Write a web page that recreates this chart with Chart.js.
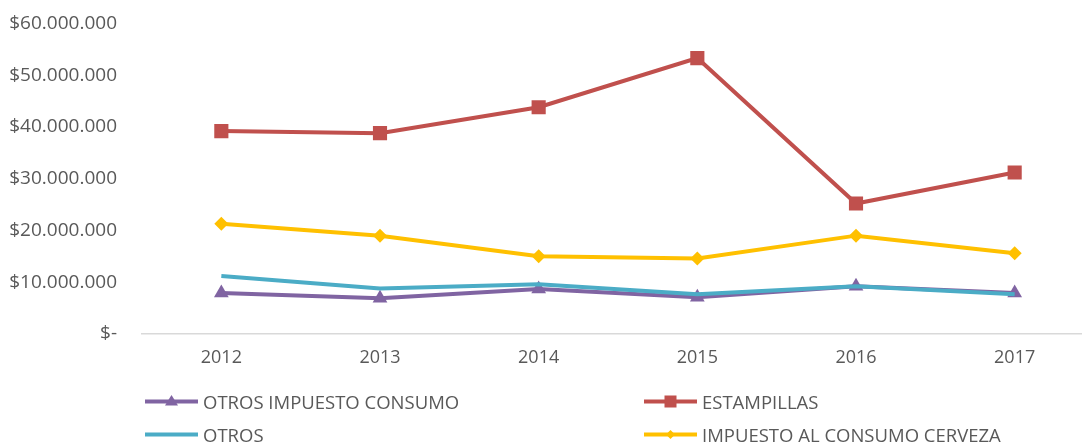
<!DOCTYPE html>
<html>
<head>
<meta charset="utf-8">
<script src="https://cdn.jsdelivr.net/npm/chart.js@4"></script>
<style>
  html, body { margin: 0; padding: 0; background: #fff; overflow: hidden; }
  #wrap { position: relative; width: 1082px; height: 446px; overflow: hidden; }
  #myChart { position: absolute; left: 0; top: -13px; }
  #legend { position: absolute; left: 0; top: 0; width: 1082px; height: 446px; pointer-events: none;
    font-family: "Open Sans", sans-serif; font-size: 18.5px; color: #595959; }
  .item { position: absolute; display: flex; align-items: center; height: 24px; white-space: nowrap; }
  .item svg { margin-right: 5px; }
</style>
</head>
<body>
<div id="wrap">
  <canvas id="myChart" width="1110" height="459"></canvas>
  <div id="legend"></div>
</div>
<script>
var years = ['2012', '2013', '2014', '2015', '2016', '2017'];
var otrosImpuestoConsumo = [7900000, 6900000, 8700000, 7100000, 9200000, 7900000];
var estampillas = [39200000, 38800000, 43800000, 53300000, 25200000, 31200000];
var otros = [11200000, 8800000, 9600000, 7700000, 9200000, 7700000];
var cerveza = [21300000, 19000000, 15000000, 14600000, 19000000, 15600000];

var seriesNames = ['OTROS IMPUESTO CONSUMO', 'ESTAMPILLAS', 'OTROS', 'IMPUESTO AL CONSUMO CERVEZA'];
var seriesColors = ['#8064A2', '#C0504D', '#4BACC6', '#FFC000'];
var seriesMarkers = ['triangle', 'rect', false, 'rectRot'];
var markerSizes = [8.5, 10, 0, 7];

function fmtMoney(v) {
    if (v === 0) return '$-';
    return '$' + String(v).replace(/\B(?=(\d{3})+(?!\d))/g, '.');
}

function makeSet(i, values) {
    return {
        label: seriesNames[i],
        data: values,
        borderColor: seriesColors[i],
        backgroundColor: seriesColors[i],
        borderWidth: 4,
        pointStyle: seriesMarkers[i],
        pointRadius: markerSizes[i],
        pointHoverRadius: markerSizes[i],
        pointBorderWidth: 0,
        tension: 0,
        order: 4 - i
    };
}

var ctx = document.getElementById('myChart').getContext('2d');
var myChart = new Chart(ctx, {
    type: 'line',
    data: {
        labels: years,
        datasets: [
            makeSet(0, otrosImpuestoConsumo),
            makeSet(1, estampillas),
            makeSet(2, otros),
            makeSet(3, cerveza)
        ]
    },
    options: {
        responsive: false,
        animation: false,
        layout: { padding: { top: 0, right: 16, bottom: 0, left: 0 } },
        plugins: {
            legend: { display: false },
            tooltip: { enabled: false }
        },
        scales: {
            x: {
                offset: true,
                grid: { display: false, drawTicks: false },
                border: { display: true, color: '#d9d9d9', width: 1.5 },
                ticks: { color: '#595959', padding: 13, font: { family: 'Open Sans', size: 18 } },
                afterFit: function (scale) { scale.height = 112; }
            },
            y: {
                min: 0,
                max: 60000000,
                grid: { display: false, drawTicks: false },
                border: { display: false },
                ticks: {
                    stepSize: 10000000,
                    color: '#595959',
                    padding: 25,
                    font: { family: 'Open Sans', size: 19 },
                    callback: function (v) { return fmtMoney(v); }
                },
                afterFit: function (scale) { scale.width = 142; }
            }
        }
    }
});

// legend in two columns like the original
var legendPos = [[145, 389], [644, 389], [145, 422], [644, 422]];
var legendBox = document.getElementById('legend');
myChart.data.datasets.forEach(function (ds, i) {
    var c = ds.borderColor;
    var mk = '';
    if (ds.pointStyle === 'triangle') mk = '<polygon points="26.5,5 33,15.5 20,15.5" fill="' + c + '"/>';
    if (ds.pointStyle === 'rect') mk = '<rect x="20.5" y="5.5" width="12" height="12" fill="' + c + '"/>';
    if (ds.pointStyle === 'rectRot') mk = '<polygon points="26.5,7 31,11.5 26.5,16 22,11.5" fill="' + c + '"/>';
    var div = document.createElement('div');
    div.className = 'item';
    div.style.left = legendPos[i][0] + 'px';
    div.style.top = legendPos[i][1] + 'px';
    div.innerHTML = '<svg width="53" height="23"><line x1="0" y1="11.5" x2="53" y2="11.5" stroke="' + c +
        '" stroke-width="4" stroke-linecap="round"/>' + mk + '</svg><span>' + ds.label + '</span>';
    legendBox.appendChild(div);
});
</script>
</body>
</html>
